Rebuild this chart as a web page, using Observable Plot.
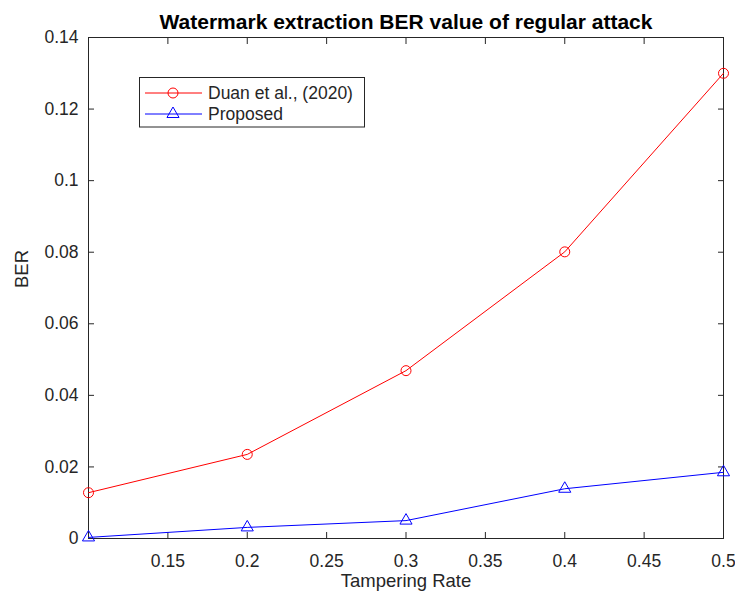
<!DOCTYPE html>
<html>
<head>
<meta charset="utf-8">
<script src="https://cdn.jsdelivr.net/npm/d3@7"></script>
<script src="https://cdn.jsdelivr.net/npm/@observablehq/plot@0.6"></script>
<style>
  html, body { margin: 0; padding: 0; background: #fff; }
  #wrap { position: relative; width: 735px; height: 599px; }
  #legend { position: absolute; left: 0; top: 0; }
</style>
</head>
<body>
<div id="wrap"></div>
<script>
const tamperingRate = [0.1, 0.2, 0.3, 0.4, 0.5];
const duanBER = [0.0128, 0.0235, 0.0469, 0.0801, 0.1300];
const proposedBER = [0.0003, 0.0031, 0.0050, 0.0139, 0.0185];
const xTicks = [0.15, 0.2, 0.25, 0.3, 0.35, 0.4, 0.45, 0.5];
const yTicks = [0, 0.02, 0.04, 0.06, 0.08, 0.1, 0.12, 0.14];
const seriesNames = ["Duan et al., (2020)", "Proposed"];
const seriesColors = ["#ff0000", "#0000ff"];
const titleText = "Watermark extraction BER value of regular attack";
const xLabel = "Tampering Rate";
const yLabel = "BER";

const duan = tamperingRate.map((x, i) => ({x, y: duanBER[i]}));
const proposed = tamperingRate.map((x, i) => ({x, y: proposedBER[i]}));

const font = "Arial, 'Liberation Sans', Helvetica, sans-serif";
const ink = "#262626";
const fmt = d => String(d);

const chart = Plot.plot({
  width: 735,
  height: 599,
  marginLeft: 88,
  marginRight: 12,
  marginTop: 37,
  marginBottom: 61,
  style: {fontFamily: font, color: ink, background: "#fff", overflow: "visible"},
  x: {domain: [0.1, 0.5]},
  y: {domain: [0, 0.14]},
  marks: [
    Plot.frame({stroke: ink, strokeWidth: 1}),
    Plot.axisX({anchor: "bottom", ticks: xTicks, tickSize: 0, tickPadding: 16, tickFormat: fmt, fontSize: 17.5, label: null, color: ink}),
    Plot.axisX({anchor: "bottom", ticks: xTicks, tickSize: -6, tickFormat: () => "", label: null, stroke: ink}),
    Plot.axisX({anchor: "top", ticks: xTicks, tickSize: -6, tickFormat: () => "", label: null, stroke: ink}),
    Plot.axisY({anchor: "left", ticks: yTicks, tickSize: 0, tickPadding: 10, tickFormat: fmt, fontSize: 17.5, label: null, color: ink}),
    Plot.axisY({anchor: "left", ticks: yTicks, tickSize: -6, tickFormat: () => "", label: null, stroke: ink}),
    Plot.axisY({anchor: "right", ticks: yTicks, tickSize: -6, tickFormat: () => "", label: null, stroke: ink}),
    Plot.line(duan, {x: "x", y: "y", stroke: seriesColors[0], strokeWidth: 1}),
    Plot.dot(duan, {x: "x", y: "y", stroke: seriesColors[0], r: 5, strokeWidth: 1, fill: "none"}),
    Plot.line(proposed, {x: "x", y: "y", stroke: seriesColors[1], strokeWidth: 1}),
    Plot.dot(proposed, {x: "x", y: "y", stroke: seriesColors[1], symbol: "triangle", r: 4.5, strokeWidth: 1, fill: "none"}),
    Plot.text([titleText], {frameAnchor: "top", lineAnchor: "middle", dy: -15, fontSize: 21, fontWeight: "bold", fill: "#000", text: d => d}),
    Plot.text([xLabel], {frameAnchor: "bottom", lineAnchor: "middle", dy: 42.5, fontSize: 18.5, fill: ink, text: d => d}),
    Plot.text([yLabel], {frameAnchor: "left", lineAnchor: "middle", dx: -66, rotate: -90, fontSize: 18.5, fill: ink, text: d => d})
  ]
});

const wrap = document.getElementById("wrap");
wrap.appendChild(chart);

// Legend overlay
const lg = d3.select(wrap).append("svg")
  .attr("id", "legend")
  .attr("width", 735).attr("height", 599)
  .style("font-family", font);
lg.append("rect").attr("x", 139.5).attr("y", 77.5).attr("width", 225).attr("height", 49.5)
  .attr("fill", "#fff").attr("stroke", ink).attr("stroke-width", 1);
const rows = [93, 114];
seriesNames.forEach((name, i) => {
  const y = rows[i];
  lg.append("line").attr("x1", 145).attr("x2", 202).attr("y1", y).attr("y2", y)
    .attr("stroke", seriesColors[i]).attr("stroke-width", 1);
  const sym = d3.symbol(i === 0 ? d3.symbolCircle : d3.symbolTriangle, i === 0 ? Math.PI * 25 : Math.PI * 20.25)();
  lg.append("path").attr("d", sym).attr("transform", `translate(173,${y})`)
    .attr("fill", "none").attr("stroke", seriesColors[i]).attr("stroke-width", 1);
  lg.append("text").attr("x", 208).attr("y", y).attr("dy", "0.35em")
    .attr("font-size", 17.5).attr("fill", ink).text(name);
});
</script>
</body>
</html>
